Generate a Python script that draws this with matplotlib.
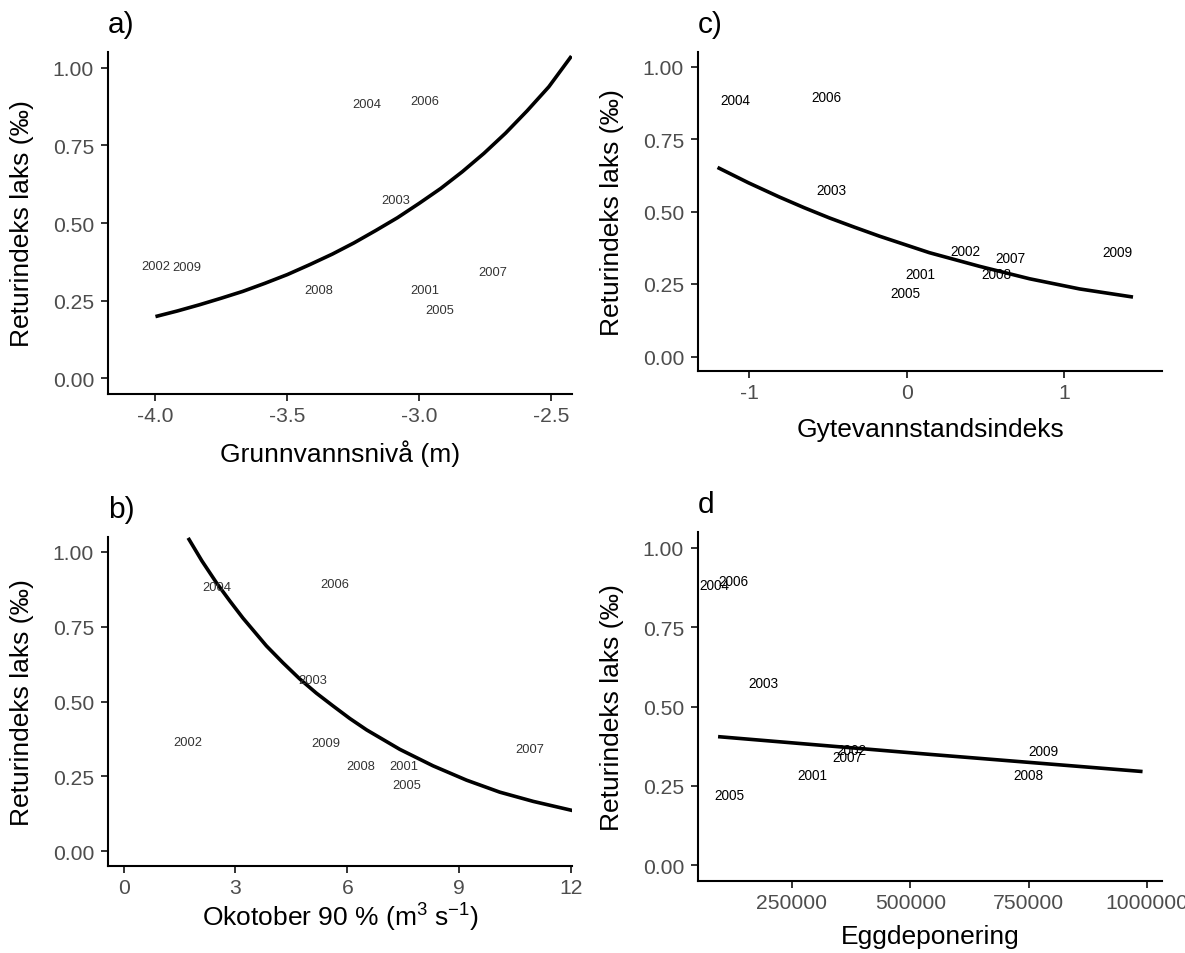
import matplotlib
matplotlib.use("Agg")
import matplotlib.pyplot as plt

# Skrift som ligner Arial (R-grafikk)
plt.rcParams['font.family'] = ['Liberation Sans', 'DejaVu Sans']
plt.rcParams['axes.unicode_minus'] = False
plt.rcParams['mathtext.fontset'] = 'custom'
plt.rcParams['mathtext.rm'] = 'Liberation Sans'
plt.rcParams['mathtext.it'] = 'Liberation Sans:italic'
plt.rcParams['mathtext.bf'] = 'Liberation Sans:bold'

# ---------------- data (lest av figuren) ----------------
aar = ['2001', '2002', '2003', '2004', '2005', '2006', '2007', '2008', '2009']
returindeks = [0.285, 0.363, 0.573, 0.883, 0.220, 0.894, 0.341, 0.283, 0.360]

grunnvann = [-2.98, -4.00, -3.09, -3.20, -2.92, -2.98, -2.72, -3.38, -3.88]
okt90 = [7.52, 1.73, 5.08, 2.49, 7.59, 5.66, 10.90, 6.36, 5.42]
gytevann = [0.09, 0.37, -0.48, -1.085, -0.01, -0.51, 0.66, 0.57, 1.34]
egg = [293800, 376500, 189200, 86900, 117200, 125600, 368000, 750600, 781100]

# tilpassede kurver (punkter lest av figuren)
kurve_a_x = [-4.0, -3.917, -3.833, -3.751, -3.669, -3.585, -3.5, -3.415, -3.329, -3.247,
             -3.164, -3.082, -3.0, -2.918, -2.836, -2.754, -2.672, -2.590, -2.508, -2.422]
kurve_a_y = [0.199, 0.217, 0.237, 0.258, 0.280, 0.306, 0.334, 0.366, 0.400, 0.436,
             0.476, 0.517, 0.563, 0.611, 0.665, 0.724, 0.789, 0.861, 0.938, 1.037]

kurve_b_x = [1.73, 2.10, 2.49, 2.85, 3.20, 3.83, 4.27, 4.72, 5.17, 5.62, 6.07, 6.52,
             7.41, 8.30, 9.20, 10.09, 10.99, 12.06]
kurve_b_y = [1.047, 0.970, 0.897, 0.836, 0.779, 0.686, 0.630, 0.576, 0.528, 0.485,
             0.443, 0.405, 0.340, 0.285, 0.237, 0.197, 0.166, 0.135]

kurve_c_x = [-1.2, -1.004, -0.808, -0.650, -0.491, -0.332, -0.173, 0.144, 0.462, 0.780, 1.097, 1.436]
kurve_c_y = [0.652, 0.599, 0.550, 0.513, 0.478, 0.446, 0.415, 0.358, 0.311, 0.268, 0.233, 0.205]

kurve_d_x = [93900, 542400, 990900]
kurve_d_y = [0.405, 0.349, 0.295]

yticks = [0.0, 0.25, 0.5, 0.75, 1.0]
ytick_labels = ['0.00', '0.25', '0.50', '0.75', '1.00']

xticks_a = [-4.0, -3.5, -3.0, -2.5]
xticklab_a = ['-4.0', '-3.5', '-3.0', '-2.5']
xticks_b = [0, 3, 6, 9, 12]
xticklab_b = ['0', '3', '6', '9', '12']
xticks_c = [-1, 0, 1]
xticklab_c = ['-1', '0', '1']
xticks_d = [250000, 500000, 750000, 1000000]
xticklab_d = ['250000', '500000', '750000', '1000000']

# ---------------- figur ----------------
W, H = 1185, 954
fig = plt.figure(figsize=(W / 100, H / 100), dpi=100)


def panel(rect, xs, kx, ky, xlim, xticks, xticklab, xlabel, tag, lab_size, lab_col, xlab_off):
    l, t, r, b = rect
    ax = fig.add_axes([l / W, 1 - b / H, (r - l) / W, (b - t) / H])
    ax.plot(kx, ky, color='black', lw=2.6, solid_capstyle='butt', solid_joinstyle='round')
    for yr, xi, yi in zip(aar, xs, returindeks):
        ax.text(xi, yi, yr, ha='center', va='center', fontsize=lab_size, color=lab_col)
    ax.set_xlim(xlim)
    ax.set_ylim(-0.05, 1.05)
    ax.set_xticks(xticks)
    ax.set_xticklabels(xticklab)
    ax.set_yticks(yticks)
    ax.set_yticklabels(ytick_labels)
    for s in ['top', 'right']:
        ax.spines[s].set_visible(False)
    for s in ['left', 'bottom']:
        ax.spines[s].set_linewidth(1.5)
        ax.spines[s].set_color('black')
    ax.tick_params(length=5, width=1.4, color='#333333', labelcolor='#4D4D4D',
                   labelsize=15.2)
    ax.tick_params(axis='x', pad=3.6)
    ax.tick_params(axis='y', pad=5)
    ax.set_ylabel('Returindeks laks (‰)', fontsize=19, color='black')
    ax.yaxis.set_label_coords(-74 / (r - l), 0.5)
    ax.set_xlabel(xlabel, fontsize=19, color='black', va='baseline')
    ax.xaxis.set_label_coords(0.5, -xlab_off / (b - t))
    fig.text(l / W, 1 - (t - 20) / H, tag, fontsize=21.5, ha='left', va='baseline')
    return ax


panel((108, 53, 572, 395), grunnvann, kurve_a_x, kurve_a_y, (-4.18, -2.42),
      xticks_a, xticklab_a, 'Grunnvannsnivå (m)', 'a)', 9.3, '#333333', 67)
panel((108, 538, 572, 867), okt90, kurve_b_x, kurve_b_y, (-0.42, 12.03),
      xticks_b, xticklab_b, 'Okotober 90 % (m$^{3}$ s$^{-1}$)', 'b)', 9.3, '#333333', 60)
panel((698, 53, 1162, 372), gytevann, kurve_c_x, kurve_c_y, (-1.324, 1.62),
      xticks_c, xticklab_c, 'Gytevannstandsindeks', 'c)', 9.8, 'black', 65)
panel((698, 533, 1162, 882), egg, kurve_d_x, kurve_d_y, (51500, 1032000),
      xticks_d, xticklab_d, 'Eggdeponering', 'd', 9.8, 'black', 62)

fig.savefig('out.png', dpi=100)
